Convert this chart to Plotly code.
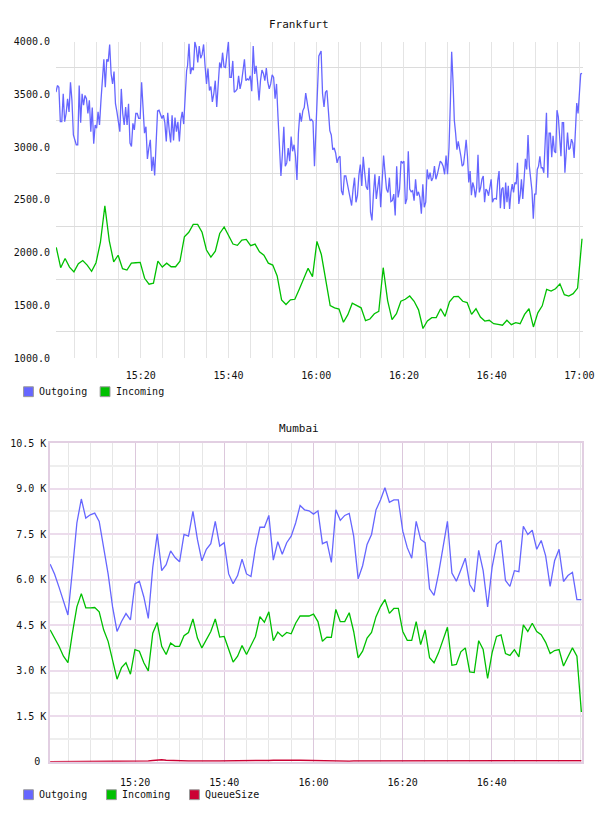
import pandas as pd
import plotly.graph_objects as go

DAY = "2013-05-14"

# ---------------- Frankfurt ----------------
# Outgoing, sampled in four consecutive runs (~20 s sampling)
fra_out_1 = [3520, 3583, 3567, 3240, 3240, 3505, 3240, 3318, 3458, 3333,
             3614, 3442, 3115, 3069, 3022, 3022, 3583, 3231, 3505, 3396,
             3489, 3458, 3318, 3442, 3146, 3374, 3031, 3209, 3178, 3333,
             3209, 3442, 3629, 3832, 3567, 3832, 3810, 3972, 3692, 3598,
             3716, 3411, 3333, 3240, 3146, 3551, 3318, 3209, 3380, 3209,
             3411, 3038, 3006, 3224, 3162, 3318, 3318, 3271, 3271, 3614,
             3380, 3131, 3193, 2888, 2991, 3069, 2773, 2907, 2732, 3038,
             3343, 3349, 3318, 3271, 3302, 3231, 3053, 3324, 3162, 3044,
             3302, 3062, 3280, 3146, 3240, 3053, 3255, 3333, 3218, 3505,
             3723]
fra_out_2 = [3770, 3978, 3692, 3754, 3729, 3997, 3941, 3801, 3956, 3841,
             3878, 3972, 3770, 3598, 3745, 3536, 3573, 3427, 3505, 3629,
             3380, 3567, 3801, 3748, 3894, 3760, 3754, 3878, 3997, 3660,
             3660, 3816, 3520, 3530, 3551, 3676, 3551, 3614, 3738, 3832,
             3629, 3645, 3636, 3676, 3530, 3956, 3692, 3770, 3614, 3442,
             3629, 3729, 3698, 3629, 3748, 3614, 3551, 3598, 3685, 3660,
             3458, 3598, 3287, 2991, 2726, 2928, 3193, 2819, 2850, 2991,
             2866, 3100, 2960, 3022, 2913, 2689, 3131, 3324, 3240, 3343,
             3374, 3511, 3427, 3318, 3249, 3262, 3240, 2819, 3193, 3567,
             3863]
fra_out_3 = [3910, 3505, 3380, 3520, 3536, 3349, 3156, 3115, 2975, 2991,
             2944, 2850, 2897, 2913, 2586, 2545, 2726, 2726, 2648, 2586,
             2523, 2446, 2601, 2710, 2477, 2539, 2732, 2835, 2632, 2907,
             2757, 2626, 2595, 2804, 2383, 2305, 2554, 2742, 2508, 2632,
             2726, 2430, 2695, 2919, 2757, 2601, 2570, 2710, 2483, 2492,
             2554, 2352, 2819, 2523, 2601, 2866, 2850, 2866, 2461, 2508,
             2960, 2601, 2576, 2586, 2492, 2695, 2539, 2576, 2523, 2368,
             2648, 2430, 2477, 2788, 2695, 2757, 2679, 2710, 2819, 2695,
             2742, 2804, 2866, 2850, 2819, 2742, 2919, 2742, 2991, 3442]
fra_out_4 = [3903, 3629, 3255, 3131, 2975, 3053, 2991, 2913, 2819, 2835,
             2944, 3069, 2913, 2664, 2773, 2545, 2664, 2617, 2523, 2617,
             2928, 2570, 2617, 2695, 2726, 2477, 2601, 2586, 2539, 2617,
             2695, 2477, 2508, 2514, 2508, 2679, 2773, 2421, 2601, 2617,
             2414, 2664, 2477, 2632, 2414, 2570, 2648, 2570, 2664, 2648,
             2850, 2461, 2539, 2695, 2508, 2695, 2888, 2788, 3115, 2819,
             2695, 2586, 2321, 2554, 2554, 2788, 2819, 2913, 2804, 2804,
             2757, 3038, 3324, 2710, 3131, 3131, 2904, 3106, 2960, 2944,
             3349, 3287, 3075, 2913, 3231, 3231, 2757, 2991, 3137, 2975,
             2991, 3075, 3038, 2897, 3131, 3417, 3318, 3505, 3692, 3698]
fra_out_runs = [("15:00:40", "15:30:27"), ("15:30:40", "16:00:36"),
                ("16:01:07", "16:30:36"), ("16:30:53", "17:00:36")]

# Incoming, one sample per minute
fra_in = [2050, 1857, 1944, 1863, 1817, 1894, 1925, 1882, 1823, 1904,
          2100, 2443, 2112, 1913, 1975, 1848, 1835, 1900, 1904, 1907,
          1757, 1701, 1711, 1919, 1863, 1900, 1866, 1866, 1919, 2150,
          2193, 2268, 2268, 2193, 2025, 1957, 2013, 2181, 2243, 2162,
          2081, 2069, 2119, 2125, 2066, 2081, 2007, 1975, 1900, 1882,
          1779, 1552, 1508, 1552, 1558, 1654, 1748, 1851, 1773, 2106,
          1982, 1739, 1499, 1477, 1465, 1340, 1412, 1521, 1502, 1477,
          1356, 1371, 1421, 1443, 1857, 1546, 1365, 1421, 1539, 1558,
          1589, 1539, 1458, 1281, 1352, 1384, 1384, 1468, 1396, 1533,
          1583, 1586, 1539, 1527, 1415, 1468, 1390, 1352, 1359, 1327,
          1321, 1312, 1359, 1318, 1337, 1327, 1415, 1468, 1296, 1430,
          1496, 1651, 1636, 1658, 1704, 1602, 1589, 1611, 1664, 2131]
fra_in_run = ("15:00:44", "17:00:36")

fra_ytick_vals = [1000, 1500, 2000, 2500, 3000, 3500, 4000]
fra_ytick_text = ["1000.0", "1500.0", "2000.0", "2500.0", "3000.0", "3500.0", "4000.0"]
fra_series = ["Outgoing", "Incoming"]

# ---------------- Mumbai ----------------
mum_out = [6510, 6186, 5752, 5319, 4833, 6300, 7865, 8655, 8027, 8135,
           8190, 7919, 7052, 6186, 5100, 4290, 4620, 4880, 4670, 5860,
           5947, 5427, 4723, 6402, 7507, 6294, 6489, 6944, 6727, 6586,
           7486, 7431, 8244, 7323, 6619, 6998, 7182, 7919, 7106, 7215,
           6186, 5861, 6132, 6673, 6186, 6099, 7052, 7724, 7724, 8114,
           6640, 7247, 6835, 7215, 7431, 7865,
           8439, 8298, 8265, 8157, 8265, 7182, 7247, 6565, 8298, 7951,
           8114, 8179, 7431, 6023, 6456, 7160, 7486, 8298, 8623, 9024,
           8547, 8623, 8623, 7594, 7052, 6705, 7919, 7323, 7215, 5698,
           5481, 6186, 7052, 7919, 6218, 5947, 6315, 6705, 5839, 5590,
           6965, 6294, 5100, 6402, 7160, 7290, 5969, 5774, 6294, 6261,
           7756, 7485, 7626, 6998, 7290, 6781, 5774, 6619, 6998, 5936,
           6132, 6240, 5341, 5341]
mum_in = [4344, 4073, 3802, 3477, 3260, 4235, 5102, 5536, 5070, 5070,
          5080, 4940, 4344, 3965, 3369, 2719, 3098, 3260, 2881, 3694,
          3640, 3260, 2990, 4235, 4582, 3802, 3531, 3910, 3802, 3802,
          4149, 4257, 4701, 4073, 3748, 4019, 4290, 4701, 4105, 4127,
          3694, 3282, 3477, 3824, 3531, 3824, 4127, 4777, 4593, 4940,
          3986, 4268, 4127, 4257, 4214, 4560,
          4799, 4799, 4799, 4864, 4615, 3965, 4105, 4095, 5015, 4615,
          4615, 4907, 4290, 3423, 3640, 4073, 4257, 4777, 5102, 5341,
          4885, 5048, 5048, 4290, 3997, 3997, 4615, 3856, 4344, 3423,
          3260, 3585, 4019, 4430, 3174, 3206, 3618, 3748, 2957, 2935,
          3986, 3694, 2740, 3585, 4127, 4181, 3564, 3499, 3694, 3455,
          4506, 4290, 4560, 4290, 4181, 3932, 3564, 3661, 3694, 3152,
          3455, 3748, 3477, 1636]
mum_queue = [0, 0, 0, 0, 0, 0, 0, 0, 0, 0,
             0, 0, 0, 0, 0, 0, 0, 0, 0, 0,
             0, 5, 20, 40, 55, 60, 50, 40, 30, 25,
             20, 20, 20, 15, 15, 20, 20, 20, 25, 25,
             20, 20, 20, 25, 25, 20, 25, 30, 35, 40,
             45, 50, 55, 50, 55, 50, 45, 40, 35, 30,
             25, 25, 20, 20, 20, 15, 15, 15, 20, 20,
             20, 20, 20, 15, 15, 15, 20, 20, 20, 20,
             15, 15, 15, 15, 15, 20, 20, 15, 15, 15,
             15, 15, 15, 15, 15, 15, 15, 15, 15, 15,
             10, 10, 10, 10, 10, 10, 10, 10, 10, 10,
             10, 10, 10, 10, 10, 10, 10, 10, 20, 30]
mum_run = ("15:00:55", "17:00:06")

mum_ytick_vals = [0, 1500, 3000, 4500, 6000, 7500, 9000, 10500]
mum_ytick_text = ["0\u00a0", "1.5 K", "3.0 K", "4.5 K", "6.0 K", "7.5 K", "9.0 K", "10.5 K"]
mum_xtick_vals = ["15:20", "15:40", "16:00", "16:20", "16:40"]
mum_series = ["Outgoing", "Incoming", "QueueSize"]

COLORS = {"Outgoing": "#6666ff", "Incoming": "#00c000", "QueueSize": "#cc0033"}
FONT = "DejaVu Sans Mono"


def times(run, n):
    return pd.date_range(f"{DAY} {run[0]}", f"{DAY} {run[1]}", periods=n)


fra_out = fra_out_1 + fra_out_2 + fra_out_3 + fra_out_4
fra_out_t = []
for run, seg in zip(fra_out_runs, [fra_out_1, fra_out_2, fra_out_3, fra_out_4]):
    fra_out_t.extend(list(times(run, len(seg))))

fig = go.Figure()

# Frankfurt lines
fig.add_trace(go.Scatter(x=fra_out_t, y=fra_out, mode="lines", name="Outgoing",
                         line=dict(color=COLORS["Outgoing"], width=1.3),
                         xaxis="x", yaxis="y"))
fig.add_trace(go.Scatter(x=times(fra_in_run, len(fra_in)), y=fra_in, mode="lines",
                         name="Incoming", line=dict(color=COLORS["Incoming"], width=1.3),
                         xaxis="x", yaxis="y"))
# Mumbai lines
mt = times(mum_run, len(mum_out))
fig.add_trace(go.Scatter(x=mt, y=mum_out, mode="lines", name="Outgoing",
                         line=dict(color=COLORS["Outgoing"], width=1.3),
                         xaxis="x2", yaxis="y2"))
fig.add_trace(go.Scatter(x=mt, y=mum_in, mode="lines", name="Incoming",
                         line=dict(color=COLORS["Incoming"], width=1.3),
                         xaxis="x2", yaxis="y2"))
fig.add_trace(go.Scatter(x=mt, y=mum_queue, mode="lines", name="QueueSize",
                         line=dict(color=COLORS["QueueSize"], width=1.5),
                         xaxis="x2", yaxis="y2"))

W, H = 608, 816


def px(x):
    return x / W


def py(y):
    return 1 - y / H


tickfont = dict(family=FONT, size=10, color="#111111")
txtfont = dict(family=FONT, size=10, color="#111111")

# Legend rows (swatch + label) drawn below each chart
shapes = []
annotations = [
    dict(text="Frankfurt", x=0.5, y=py(20), xref="paper", yref="paper",
         showarrow=False, xanchor="center", yanchor="middle",
         font=dict(family=FONT, size=11, color="#111111")),
    dict(text="Mumbai", x=0.5, y=py(429), xref="paper", yref="paper",
         showarrow=False, xanchor="center", yanchor="middle",
         font=dict(family=FONT, size=11, color="#111111")),
]
legend_rows = [(fra_series, 392, 78), (mum_series, 800.5, 84.5)]
for names, yc, step in legend_rows:
    for i, name in enumerate(names):
        x0 = 24 + i * step
        shapes.append(dict(type="rect", xref="paper", yref="paper",
                           x0=px(x0), x1=px(x0 + 10), y0=py(yc + 5), y1=py(yc - 5),
                           fillcolor=COLORS[name], line=dict(color="#999999", width=1)))
        annotations.append(dict(text=name, x=px(x0 + 14), y=py(yc), xref="paper",
                                yref="paper", showarrow=False, xanchor="left",
                                yanchor="middle", font=txtfont))

fig.update_layout(
    width=W, height=H, margin=dict(l=0, r=0, t=0, b=0),
    paper_bgcolor="white", plot_bgcolor="white",
    font=dict(family=FONT, size=10, color="#111111"),
    showlegend=False, hovermode=False,
    xaxis=dict(domain=[px(57), px(594)], anchor="y", type="date",
               range=[f"{DAY} 15:00:40", f"{DAY} 17:00:53"],
               tickmode="linear", tick0=f"{DAY} 15:00", dtick=1200000,
               tickformat="%H:%M", showgrid=True, gridcolor="#e4e4e4", gridwidth=1,
               minor=dict(tickmode="linear", tick0=f"{DAY} 15:00", dtick=300000,
                          showgrid=True, gridcolor="#e4e4e4", gridwidth=1),
               showline=False, zeroline=False, ticks="", tickfont=tickfont,
               ticklabelstandoff=10),
    yaxis=dict(domain=[py(358), py(37)], anchor="x", range=[1000, 4000],
               tickmode="array", tickvals=fra_ytick_vals, ticktext=fra_ytick_text,
               showgrid=False,
               minor=dict(tickmode="linear", tick0=1250, dtick=500, showgrid=True,
                          gridcolor="#dcdcdc", gridwidth=1),
               showline=False, zeroline=False, ticks="", tickfont=tickfont,
               ticklabelstandoff=5),
    xaxis2=dict(domain=[px(51), px(593)], anchor="y2", type="date",
                range=[f"{DAY} 15:00:55", f"{DAY} 17:00:18"],
                tickmode="array", tickvals=[f"{DAY} {v}" for v in mum_xtick_vals],
                ticktext=mum_xtick_vals,
                showgrid=True, gridcolor="#dcc8dc", gridwidth=1,
                minor=dict(tickmode="linear", tick0=f"{DAY} 15:00", dtick=300000,
                           showgrid=True, gridcolor="#e6e6e6", gridwidth=1),
                showline=True, linecolor="#e2cfe2", linewidth=1.5, mirror=True,
                zeroline=False, ticks="", tickfont=tickfont, ticklabelstandoff=11),
    yaxis2=dict(domain=[py(767), py(444)], anchor="x2", range=[0, 10500],
                tickmode="array", tickvals=mum_ytick_vals, ticktext=mum_ytick_text,
                showgrid=True, gridcolor="#ecdcec", gridwidth=2,
                minor=dict(tickmode="linear", tick0=750, dtick=1500, showgrid=True,
                           gridcolor="#eeeeee", gridwidth=1.5),
                showline=True, linecolor="#e2cfe2", linewidth=1.5, mirror=True,
                zeroline=False, ticks="", tickfont=tickfont, ticklabelstandoff=0),
    shapes=shapes,
    annotations=annotations,
)

fig.write_html("out.html")
